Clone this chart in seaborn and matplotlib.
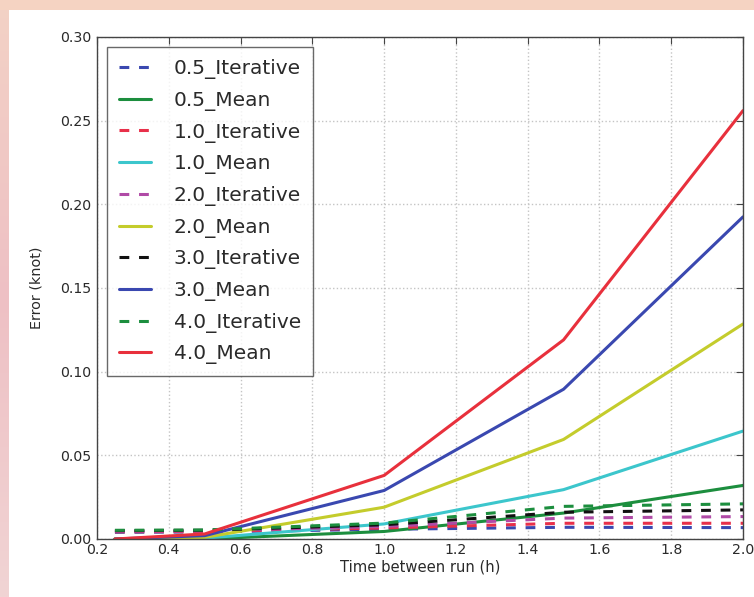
import numpy as np
import pandas as pd
import matplotlib
matplotlib.use("Agg")
import matplotlib.pyplot as plt
import seaborn as sns
from matplotlib.patches import Rectangle
from matplotlib.ticker import FormatStrFormatter, MultipleLocator

# Time between runs (h)
hours = [0.25, 0.5, 1.0, 1.5, 2.0]

# Error (knot) for each run spacing, iterative vs. mean method
iter_05 = [0.0040, 0.0042, 0.0058, 0.0070, 0.0068]
mean_05 = [0.0000, 0.0000, 0.0045, 0.0155, 0.0320]
iter_10 = [0.0043, 0.0045, 0.0066, 0.0094, 0.0094]
mean_10 = [0.0000, 0.0005, 0.0090, 0.0295, 0.0645]
iter_20 = [0.0046, 0.0048, 0.0075, 0.0125, 0.0134]
mean_20 = [0.0000, 0.0010, 0.0190, 0.0595, 0.1285]
iter_30 = [0.0050, 0.0052, 0.0085, 0.0160, 0.0174]
mean_30 = [0.0000, 0.0020, 0.0290, 0.0895, 0.1925]
iter_40 = [0.0052, 0.0054, 0.0095, 0.0195, 0.0210]
mean_40 = [0.0000, 0.0030, 0.0380, 0.1190, 0.2560]

series_names = ["0.5_Iterative", "0.5_Mean", "1.0_Iterative", "1.0_Mean",
                "2.0_Iterative", "2.0_Mean", "3.0_Iterative", "3.0_Mean",
                "4.0_Iterative", "4.0_Mean"]
series_values = [iter_05, mean_05, iter_10, mean_10, iter_20, mean_20,
                 iter_30, mean_30, iter_40, mean_40]
series_colors = ["#3a48b0", "#1c8e3e", "#e8304a", "#3cc6cc", "#b04aa6",
                 "#c4cc2c", "#111111", "#3a48b0", "#1c8e3e", "#e8303c"]

rows = []
for name, vals in zip(series_names, series_values):
    for h, v in zip(hours, vals):
        rows.append({"series": name, "hours": h, "error": v})
df = pd.DataFrame(rows)

sns.set_style("white")
plt.rcParams["font.family"] = ["DejaVu Sans"]
text_color = "#2a2a2a"

fig = plt.figure(figsize=(7.54, 5.97), dpi=100)
fig.patch.set_facecolor("white")

# decorative pink frame along the top and left edges
band = fig.add_axes([0, 0, 9 / 754, 1])
grad = np.linspace(0, 1, 256).reshape(-1, 1)
band.imshow(grad, aspect="auto", extent=[0, 1, 0, 1], origin="lower",
            cmap=matplotlib.colors.LinearSegmentedColormap.from_list(
                "frame", ["#f1d4d4", "#eec0c4", "#f3d2c6"]))
band.set_axis_off()
fig.patches.append(Rectangle((0, 1 - 10 / 597), 1, 10 / 597,
                             transform=fig.transFigure, facecolor="#f5d3c2",
                             edgecolor="none", zorder=0))

ax = fig.add_axes([97 / 754, 58 / 597, 646 / 754, 502 / 597])
ax.set_facecolor("white")

for name, color in zip(series_names, series_colors):
    sub = df[df["series"] == name]
    dashed = name.endswith("Iterative")
    sns.lineplot(data=sub, x="hours", y="error", ax=ax, color=color,
                 linewidth=2.2, label=name, estimator=None,
                 linestyle="--" if dashed else "-",
                 **({"dashes": False} if not dashed else {}))
    if dashed:
        ax.lines[-1].set_dashes((3.2, 3.2))

ax.set_xlim(0.2, 2.0)
ax.set_ylim(0, 0.30)
ax.xaxis.set_major_locator(MultipleLocator(0.2))
ax.yaxis.set_major_locator(MultipleLocator(0.05))
ax.xaxis.set_major_formatter(FormatStrFormatter("%.1f"))
ax.yaxis.set_major_formatter(FormatStrFormatter("%.2f"))

ax.grid(True, linestyle=":", color="#c4c4c4", linewidth=1.0)
for sp in ax.spines.values():
    sp.set_visible(True)
    sp.set_color("#444444")
    sp.set_linewidth(1.0)
ax.tick_params(direction="in", length=5, width=0.8, colors="#444444",
               top=True, right=True, labelsize=10.2, labelcolor=text_color)
ax.tick_params(axis="x", pad=3)
ax.tick_params(axis="y", pad=4)

ax.set_xlabel("Time between run (h)", fontsize=10.6, color=text_color, labelpad=2)
ax.set_ylabel("Error (knot)", fontsize=10.4, color=text_color, labelpad=12)

leg = ax.legend(loc="upper left", fontsize=14.5, frameon=True, fancybox=False,
                handlelength=1.6, handletextpad=1.1, labelspacing=0.58,
                borderpad=0.6, borderaxespad=0.5)
leg.get_frame().set_edgecolor("#444444")
leg.get_frame().set_linewidth(1.0)
for t in leg.get_texts():
    t.set_color(text_color)

fig.savefig("out.png", dpi=100, facecolor="white")
